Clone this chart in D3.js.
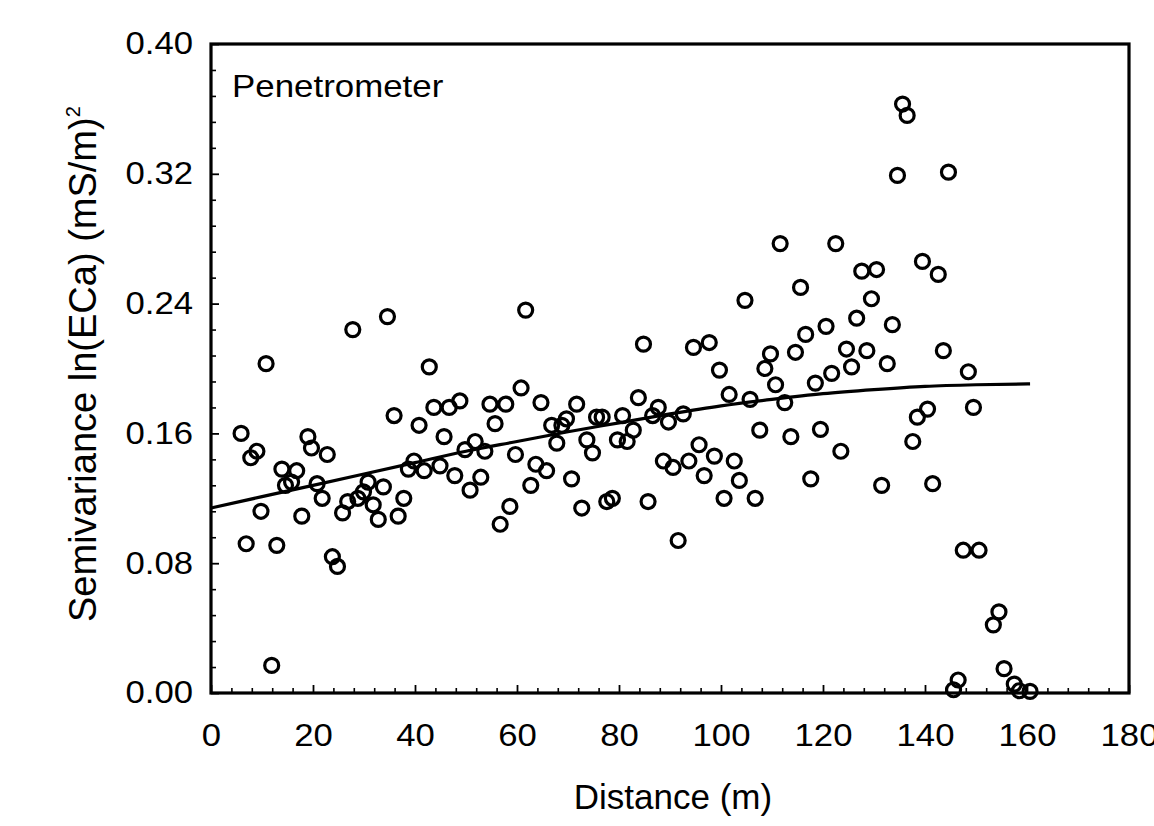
<!DOCTYPE html>
<html>
<head>
<meta charset="utf-8">
<script src="https://cdn.jsdelivr.net/npm/d3@7/dist/d3.min.js"></script>
<style>
  html, body { margin: 0; padding: 0; background: #fff; }
  svg { display: block; }
  text { font-family: "Liberation Sans", Arial, sans-serif; fill: #000; }
</style>
</head>
<body>
<svg id="chart" width="1154" height="826"></svg>
<script>
// ---- data ----
const distance = [5.9,6.9,7.8,9.0,9.8,10.8,11.9,12.9,13.9,14.6,15.8,16.8,17.8,19.0,19.7,20.8,21.8,22.8,23.8,24.8,
  25.8,26.8,27.8,28.8,29.9,30.8,31.8,32.8,33.8,34.6,35.9,36.7,37.8,38.7,39.8,40.8,41.8,42.8,43.7,44.9,
  45.7,46.7,47.8,48.8,49.8,50.8,51.8,52.9,53.7,54.7,55.7,56.7,57.8,58.6,59.7,60.8,61.7,62.7,63.7,64.7,
  65.8,66.8,67.8,68.8,69.7,70.7,71.7,72.7,73.7,74.8,75.6,76.7,77.6,78.7,79.7,80.7,81.6,82.8,83.8,84.8,
  85.7,86.6,87.7,88.7,89.7,90.6,91.6,92.6,93.7,94.6,95.7,96.7,97.7,98.7,99.7,100.6,101.6,102.6,103.6,104.7,
  105.7,106.7,107.6,108.6,109.7,110.7,111.6,112.5,113.7,114.6,115.6,116.6,117.6,118.5,119.5,120.6,121.7,122.5,123.5,124.6,
  125.6,126.6,127.6,128.6,129.5,130.5,131.5,132.6,133.6,134.6,135.6,136.5,137.6,138.5,139.5,140.5,141.5,142.6,143.6,144.6,
  145.6,146.5,147.5,148.5,149.5,150.6,153.4,154.5,155.5,157.5,158.5,160.6];
const semivariance = [0.160,0.092,0.145,0.149,0.112,0.203,0.017,0.091,0.138,0.128,0.130,0.137,0.109,0.158,0.151,0.129,0.120,0.147,0.084,0.078,
  0.111,0.118,0.224,0.120,0.124,0.130,0.116,0.107,0.127,0.232,0.171,0.109,0.120,0.138,0.143,0.165,0.137,0.201,0.176,0.140,
  0.158,0.176,0.134,0.180,0.150,0.125,0.155,0.133,0.149,0.178,0.166,0.104,0.178,0.115,0.147,0.188,0.236,0.128,0.141,0.179,
  0.137,0.165,0.154,0.165,0.169,0.132,0.178,0.114,0.156,0.148,0.170,0.170,0.118,0.120,0.156,0.171,0.155,0.162,0.182,0.215,
  0.118,0.171,0.176,0.143,0.167,0.139,0.094,0.172,0.143,0.213,0.153,0.134,0.216,0.146,0.199,0.120,0.184,0.143,0.131,0.242,
  0.181,0.120,0.162,0.200,0.209,0.190,0.277,0.179,0.158,0.210,0.250,0.221,0.132,0.191,0.1625,0.226,0.197,0.277,0.149,0.212,
  0.201,0.231,0.260,0.211,0.243,0.261,0.128,0.203,0.227,0.319,0.363,0.356,0.155,0.170,0.266,0.175,0.129,0.258,0.211,0.321,
  0.002,0.008,0.088,0.198,0.176,0.088,0.042,0.050,0.015,0.0055,0.0014,0.001];

// fitted model curve
const fitDistance = [0,10,20,30,40,50,60,70,80,90,100,110,120,130,140,150,160.6];
const fitValue    = [0.114,0.121,0.128,0.135,0.142,0.149,0.155,0.161,0.1665,0.172,0.177,0.181,0.1845,0.187,0.189,0.190,0.1905];

const xMajorTicks = [0,20,40,60,80,100,120,140,160,180];
const yMajorTicks = [0,0.08,0.16,0.24,0.32,0.40];
const panelLabel = "Penetrometer";
const xTitle = "Distance (m)";

// ---- layout ----
const L = 211, R = 1129, T = 44, B = 693;
const svg = d3.select("#chart");

const x = d3.scaleLinear().domain([0,180]).range([L,R]);
const y = d3.scaleLinear().domain([0,0.40]).range([B,T]);

const xMinor = d3.range(0,181,4).filter(v => v % 20 !== 0);
const yMinor = d3.range(0,26).map(i => +(i*0.016).toFixed(3)).filter((v,i) => i % 5 !== 0);

// minor ticks
svg.append("g").attr("transform",`translate(0,${B})`)
  .call(d3.axisBottom(x).tickValues(xMinor).tickSize(-5).tickFormat(""))
  .call(g => g.select(".domain").remove())
  .call(g => g.selectAll("line").attr("stroke","#000").attr("stroke-width",1.6));
svg.append("g").attr("transform",`translate(${L},0)`)
  .call(d3.axisLeft(y).tickValues(yMinor).tickSize(-5).tickFormat(""))
  .call(g => g.select(".domain").remove())
  .call(g => g.selectAll("line").attr("stroke","#000").attr("stroke-width",1.6));

// major ticks + labels
svg.append("g").attr("transform",`translate(0,${B})`)
  .call(d3.axisBottom(x).tickValues(xMajorTicks).tickSize(-8).tickPadding(31).tickFormat(d3.format("d")))
  .call(g => g.select(".domain").remove())
  .call(g => g.selectAll("line").attr("stroke","#000").attr("stroke-width",1.8))
  .call(g => g.selectAll("text").attr("font-size",31).attr("font-family","Liberation Sans, Arial, sans-serif")
      .attr("transform","scale(1.12,1)").attr("fill","#000"));
svg.append("g").attr("transform",`translate(${L},0)`)
  .call(d3.axisLeft(y).tickValues(yMajorTicks).tickSize(-8).tickPadding(16).tickFormat(d3.format(".2f")))
  .call(g => g.select(".domain").remove())
  .call(g => g.selectAll("line").attr("stroke","#000").attr("stroke-width",1.8))
  .call(g => g.selectAll("text").attr("font-size",31).attr("font-family","Liberation Sans, Arial, sans-serif")
      .attr("transform","scale(1.12,1)").attr("fill","#000"));

// frame
svg.append("rect").attr("x",L).attr("y",T).attr("width",R-L).attr("height",B-T)
  .attr("fill","none").attr("stroke","#000").attr("stroke-width",3.2);

// fitted curve
const line = d3.line().x((d,i) => x(fitDistance[i])).y(d => y(d)).curve(d3.curveMonotoneX);
svg.append("path").datum(fitValue).attr("d",line)
  .attr("fill","none").attr("stroke","#000").attr("stroke-width",3.2);

// points
svg.append("g").selectAll("circle").data(distance).join("circle")
  .attr("cx",d => x(d)).attr("cy",(d,i) => y(semivariance[i])).attr("r",7)
  .attr("fill","none").attr("stroke","#000").attr("stroke-width",3.2);

// panel label
svg.append("text").attr("transform","translate(232,97) scale(1.09,1)")
  .attr("font-size",32).text(panelLabel);

// x title
svg.append("text").attr("x",673).attr("y",809).attr("text-anchor","middle")
  .attr("font-size",35).text(xTitle);

// y title
const yt = svg.append("text").attr("transform","translate(96,622) rotate(-90)")
  .attr("font-size",38);
yt.append("tspan").text("Semivariance ln(ECa) (mS/m)");
yt.append("tspan").attr("dy",-16).attr("font-size",20).text("2");
</script>
</body>
</html>
